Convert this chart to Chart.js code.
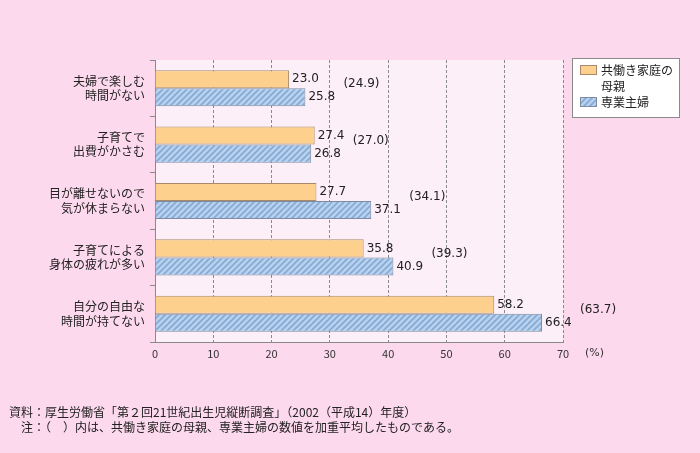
<!DOCTYPE html>
<html>
<head>
<meta charset="utf-8">
<script src="https://cdn.jsdelivr.net/npm/chart.js@4/dist/chart.umd.min.js"></script>
<style>
  html, body { margin: 0; padding: 0; background: #fdd9ee; }
  #wrap { width: 700px; height: 453px; position: relative; }
</style>
</head>
<body>
<div id="wrap"><canvas id="myChart" width="700" height="453"></canvas></div>
<script>
let categories = [
    ['夫婦で楽しむ', '時間がない'],
    ['子育てで', '出費がかさむ'],
    ['目が離せないので', '気が休まらない'],
    ['子育てによる', '身体の疲れが多い'],
    ['自分の自由な', '時間が持てない']
];
let workingMothers = [23.0, 27.4, 27.7, 35.8, 58.2];
let housewives = [25.8, 26.8, 37.1, 40.9, 66.4];
let averages = [24.9, 27.0, 34.1, 39.3, 63.7];
let seriesNames = ['共働き家庭の母親', '専業主婦'];
let xMin = 0, xMax = 70, xStep = 10;
let notes = [
    '資料：厚生労働省「第２回21世紀出生児縦断調査」（2002（平成14）年度）',
    '　注：（　）内は、共働き家庭の母親、専業主婦の数値を加重平均したものである。'
];

let jp = '"Noto Sans CJK JP", "DejaVu Sans", sans-serif';
let num = '"DejaVu Sans", sans-serif';

// hatched blue fill
function makeHatch() {
    let c = document.createElement('canvas');
    c.width = 6; c.height = 6;
    let g = c.getContext('2d');
    g.fillStyle = '#b7d2ef';
    g.fillRect(0, 0, 6, 6);
    g.strokeStyle = '#86a9d3';
    g.lineWidth = 1.6;
    g.beginPath();
    g.moveTo(0, 6); g.lineTo(6, 0);
    g.moveTo(-3, 3); g.lineTo(3, -3);
    g.moveTo(3, 9); g.lineTo(9, 3);
    g.stroke();
    return g.createPattern(c, 'repeat');
}
let ctx = document.getElementById('myChart').getContext('2d');
let hatch = makeHatch();
let orange = '#fdd08e';

let decorations = {
    id: 'decorations',
    beforeDraw: function (chart) {
        let g = chart.ctx, a = chart.chartArea;
        g.save();
        g.fillStyle = '#fdd9ee';
        g.fillRect(0, 0, chart.width, chart.height);
        g.fillStyle = '#fdeff8';
        g.fillRect(a.left, a.top, a.right - a.left, a.bottom - a.top);
        g.restore();
    },
    afterDatasetsDraw: function (chart) {
        let g = chart.ctx, a = chart.chartArea;
        let xs = chart.scales.x;
        g.save();
        g.font = '12px ' + num;
        g.fillStyle = '#222';
        g.textBaseline = 'middle';
        g.textAlign = 'left';
        chart.data.datasets.forEach(function (ds, di) {
            let meta = chart.getDatasetMeta(di);
            meta.data.forEach(function (bar, i) {
                g.fillText(ds.data[i].toFixed(1), bar.x + 3, bar.y);
            });
        });
        // weighted averages
        let m0 = chart.getDatasetMeta(0), m1 = chart.getDatasetMeta(1);
        averages.forEach(function (v, i) {
            let end = xs.getPixelForValue(Math.max(workingMothers[i], housewives[i]));
            let y = (m0.data[i].y + m1.data[i].y) / 2 - 4;
            g.fillText('(' + v.toFixed(1) + ')', end + 38, y);
        });
        // unit
        g.font = '11px ' + num;
        g.fillStyle = '#333';
        g.fillText('(%)', a.right + 22, a.bottom + 11);
        // legend
        let lx = a.right + 9, ly = a.top - 2;
        g.fillStyle = '#ffffff';
        g.fillRect(lx, ly, 107, 59);
        g.strokeStyle = '#8a8a8a';
        g.lineWidth = 1;
        g.strokeRect(lx + 0.5, ly + 0.5, 107, 59);
        g.fillStyle = orange;
        g.fillRect(lx + 8, ly + 7, 16, 9);
        g.strokeStyle = '#a88a6a';
        g.strokeRect(lx + 8.5, ly + 7.5, 16, 9);
        g.fillStyle = hatch;
        g.fillRect(lx + 8, ly + 39, 16, 9);
        g.strokeStyle = '#7d8ca3';
        g.strokeRect(lx + 8.5, ly + 39.5, 16, 9);
        g.fillStyle = '#222';
        g.font = '12px ' + jp;
        g.fillText('共働き家庭の', lx + 29, ly + 12);
        g.fillText('母親', lx + 29, ly + 28);
        g.fillText(seriesNames[1], lx + 29, ly + 44);
        // notes
        g.font = '12px ' + jp;
        notes.forEach(function (t, i) {
            g.fillText(t, 9, a.bottom + 70 + i * 15);
        });
        g.restore();
    }
};

let mybar = new Chart(ctx, {
    type: 'bar',
    data: {
        labels: categories,
        datasets: [{
            label: seriesNames[0],
            data: workingMothers,
            backgroundColor: orange,
            borderColor: '#a88a6a',
            borderWidth: 1,
            categoryPercentage: 0.64,
            barPercentage: 1
        }, {
            label: seriesNames[1],
            data: housewives,
            backgroundColor: hatch,
            borderColor: '#7d8ca3',
            borderWidth: 1,
            categoryPercentage: 0.64,
            barPercentage: 1
        }]
    },
    options: {
        indexAxis: 'y',
        responsive: false,
        animation: false,
        layout: { padding: { left: 0, right: 137, top: 60, bottom: 0 } },
        plugins: {
            legend: { display: false },
            tooltip: { enabled: false }
        },
        scales: {
            x: {
                min: xMin,
                max: xMax,
                ticks: { stepSize: xStep, color: '#333', font: { family: jp, size: 11 }, padding: 5 },
                grid: { color: '#8a8a8a', drawTicks: false, lineWidth: 1 },
                border: { color: '#8a8a8a', dash: [3, 2] },
                afterFit: function (scale) { scale.height = 111; }
            },
            y: {
                ticks: { color: '#222', font: { family: jp, size: 12 }, padding: 5 },
                grid: { drawOnChartArea: false, color: '#8a8a8a', tickLength: 5, offset: true },
                border: { color: '#8a8a8a' },
                afterFit: function (scale) { scale.width = 155; }
            }
        }
    },
    plugins: [decorations]
});
</script>
</body>
</html>
